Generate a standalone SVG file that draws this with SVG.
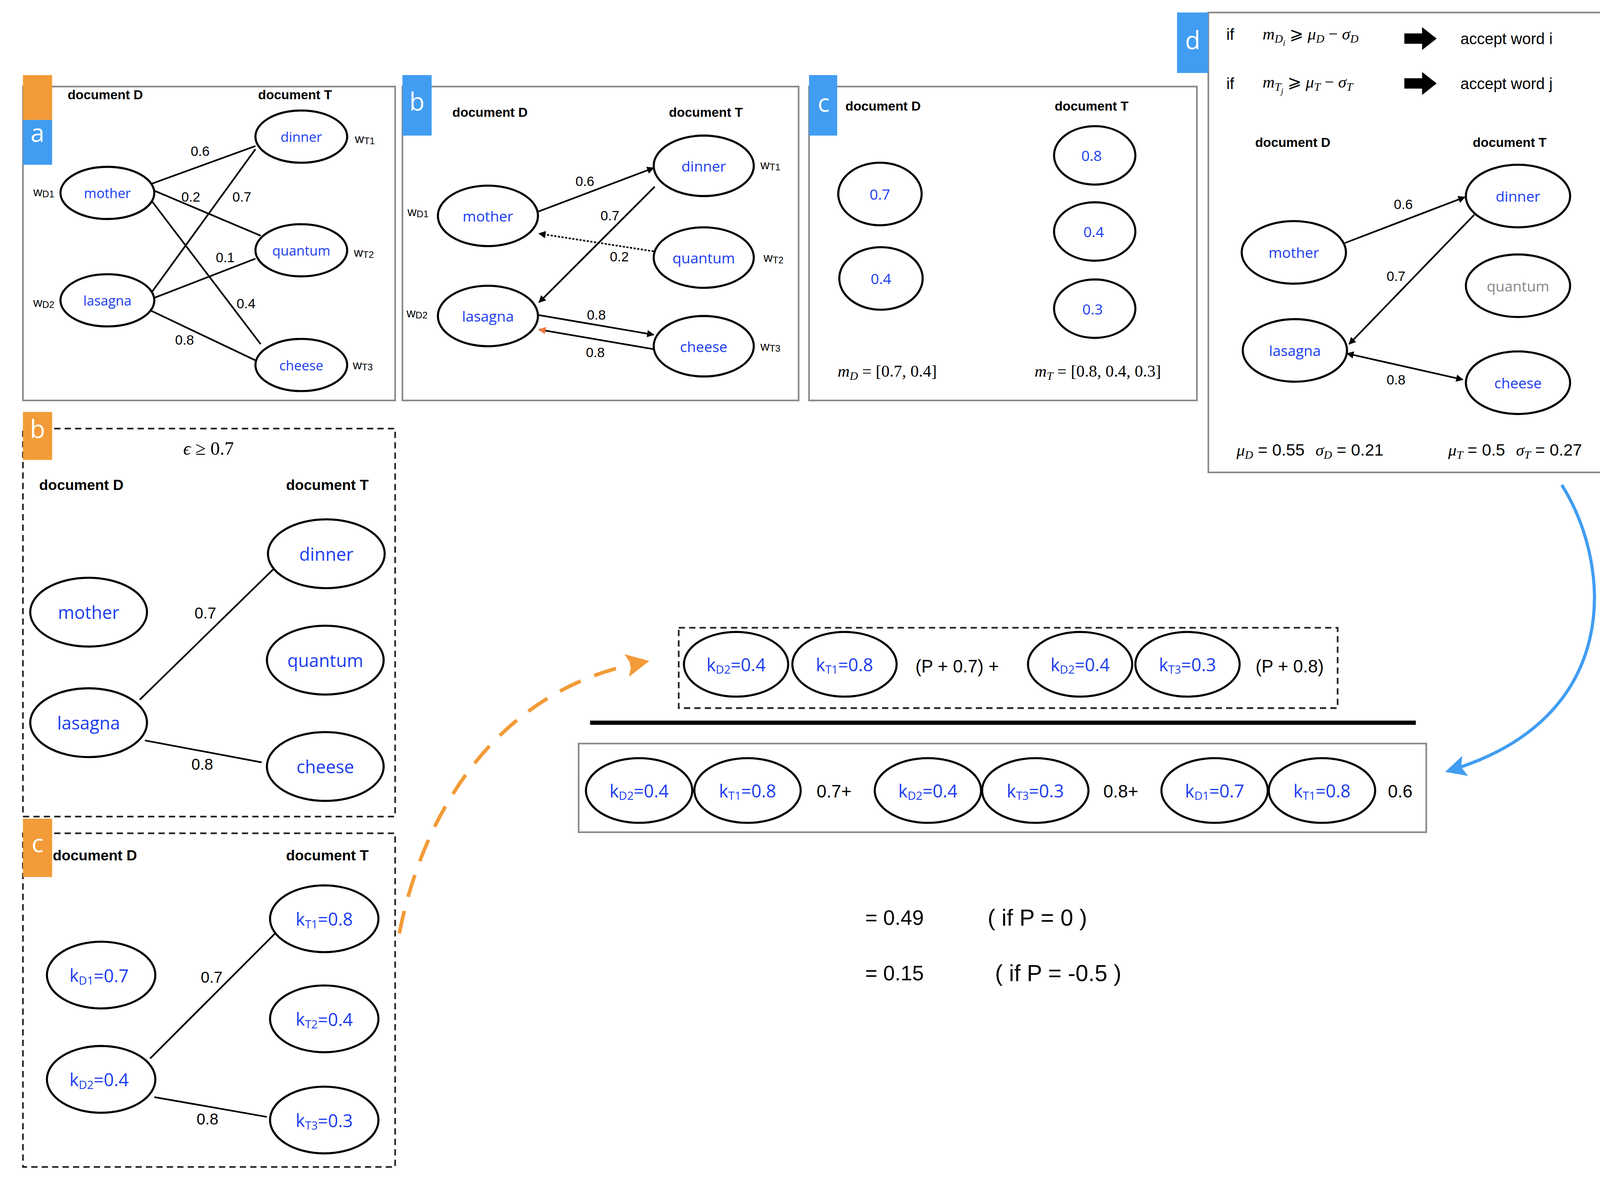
<svg xmlns="http://www.w3.org/2000/svg" width="4185" height="3020" viewBox="0 0 4185 3020">
<style>
.box{fill:#fff;stroke:#8a8a8a;stroke-width:1.6}
.dbox{fill:#fff;stroke:#222;stroke-width:1.6;stroke-dasharray:6 4}
.n{fill:#fff;stroke:#000;stroke-width:2}
.lb{font-family:"Open Sans","DejaVu Sans",sans-serif;fill:#1a3cf0;text-anchor:middle;dominant-baseline:central}
.hd{font-family:"Liberation Sans",Arial,sans-serif;font-weight:bold;text-anchor:middle}
.t{font-family:"Liberation Sans",Arial,sans-serif;text-anchor:middle;dominant-baseline:central}
.w{font-family:"Liberation Sans",Arial,sans-serif;font-size:12px;text-anchor:middle;dominant-baseline:central}
.m{font-family:"Liberation Serif","Times New Roman",serif;font-style:italic;font-size:16px}
.e{stroke:#000;stroke-width:1.6;fill:none}
.tabo{fill:#f29b38}
.tabb{fill:#419df2}
.tl{font-family:"Open Sans","DejaVu Sans",sans-serif;font-size:24px;fill:#fff;text-anchor:middle;dominant-baseline:central}
</style>
<defs>
<marker id="ak" viewBox="0 0 10 10" refX="9" refY="5" markerWidth="7" markerHeight="7" markerUnits="userSpaceOnUse" orient="auto-start-reverse"><path d="M0,0 L10,5 L0,10 z" fill="#000"/></marker>
<marker id="ao" viewBox="0 0 10 10" refX="9" refY="5" markerWidth="7" markerHeight="7" markerUnits="userSpaceOnUse" orient="auto"><path d="M0,0 L10,5 L0,10 z" fill="#e9773a"/></marker>
<marker id="aob" viewBox="0 0 10 10" refX="5" refY="5" markerWidth="22" markerHeight="22" markerUnits="userSpaceOnUse" orient="auto"><path d="M0,0 L10,5 L0,10 L2,5 z" fill="#f29b38"/></marker>
<marker id="abl" viewBox="0 0 10 10" refX="8" refY="5" markerWidth="20" markerHeight="20" markerUnits="userSpaceOnUse" orient="auto"><path d="M0,0 L10,5 L0,10 L2,5 z" fill="#419df2"/></marker>
</defs>
<rect width="4185" height="3020" fill="#fff"/>
<g transform="scale(2.669)">

<!-- panel a -->
<g id="panel-a">
<rect class="box" x="22" y="83" width="357" height="301"/>
<rect class="tabo" x="22" y="72" width="28" height="43"/>
<rect class="tabb" x="22" y="115" width="28" height="43"/>
<text class="tl" x="36" y="127">a</text>
<text class="hd" x="101" y="95" style="font-size:12.5px">document D</text>
<text class="hd" x="283" y="95" style="font-size:12.5px">document T</text>
<text class="w" x="42" y="184">w<tspan font-size="9" dy="2">D1</tspan></text>
<text class="w" x="42" y="290">w<tspan font-size="9" dy="2">D2</tspan></text>
<text class="w" x="350" y="133">w<tspan font-size="9" dy="2">T1</tspan></text>
<text class="w" x="349" y="242">w<tspan font-size="9" dy="2">T2</tspan></text>
<text class="w" x="348" y="350">w<tspan font-size="9" dy="2">T3</tspan></text>
</g>
<g id="a-connectors">
<line class="e" x1="146" y1="176" x2="245" y2="140"/>
<line class="e" x1="146" y1="182" x2="250" y2="226"/>
<line class="e" x1="145" y1="192" x2="250" y2="330"/>
<line class="e" x1="145" y1="281" x2="245" y2="143"/>
<line class="e" x1="147" y1="286" x2="245" y2="248"/>
<line class="e" x1="145" y1="298" x2="246" y2="346"/>
<text class="t" x="192" y="145" style="font-size:13px">0.6</text>
<text class="t" x="183" y="189" style="font-size:13px">0.2</text>
<text class="t" x="232" y="189" style="font-size:13px">0.7</text>
<text class="t" x="216" y="247" style="font-size:13px">0.1</text>
<text class="t" x="236" y="291" style="font-size:13px">0.4</text>
<text class="t" x="177" y="326" style="font-size:13px">0.8</text>
</g>
<g id="a-mother"><ellipse class="n" cx="103" cy="185" rx="45" ry="25"/><text class="lb" x="103" y="185" font-size="13">mother</text></g>
<g id="a-lasagna"><ellipse class="n" cx="103" cy="288" rx="45" ry="25"/><text class="lb" x="103" y="288" font-size="13">lasagna</text></g>
<g id="a-dinner"><ellipse class="n" cx="289" cy="131" rx="44" ry="25"/><text class="lb" x="289" y="131" font-size="13">dinner</text></g>
<g id="a-quantum"><ellipse class="n" cx="289" cy="240" rx="44" ry="25"/><text class="lb" x="289" y="240" font-size="13">quantum</text></g>
<g id="a-cheese"><ellipse class="n" cx="289" cy="350" rx="44" ry="25"/><text class="lb" x="289" y="350" font-size="13">cheese</text></g>

<!-- panel b top -->
<g id="panel-b">
<rect class="box" x="386" y="83" width="380" height="301"/>
<rect class="tabb" x="386" y="72" width="28" height="58"/>
<text class="tl" x="400" y="97">b</text>
<text class="hd" x="470" y="112" style="font-size:12.5px">document D</text>
<text class="hd" x="677" y="112" style="font-size:12.5px">document T</text>
<text class="w" x="401" y="203">w<tspan font-size="9" dy="2">D1</tspan></text>
<text class="w" x="400" y="300">w<tspan font-size="9" dy="2">D2</tspan></text>
<text class="w" x="739" y="158">w<tspan font-size="9" dy="2">T1</tspan></text>
<text class="w" x="742" y="247">w<tspan font-size="9" dy="2">T2</tspan></text>
<text class="w" x="739" y="332">w<tspan font-size="9" dy="2">T3</tspan></text>
</g>
<g id="b-connectors">
<line class="e" x1="516" y1="203" x2="627" y2="161" marker-end="url(#ak)"/>
<line class="e" x1="628" y1="179" x2="517" y2="290" marker-end="url(#ak)"/>
<line class="e" x1="627" y1="241" x2="517" y2="224" stroke-dasharray="2 1.5" marker-end="url(#ak)"/>
<line class="e" x1="516" y1="302" x2="627" y2="321" marker-end="url(#ak)"/>
<line class="e" x1="628" y1="335" x2="517" y2="316" stroke="#e9773a" marker-end="url(#ao)"/>
<text class="t" x="561" y="174" style="font-size:13px">0.6</text>
<text class="t" x="585" y="207" style="font-size:13px">0.7</text>
<text class="t" x="594" y="246" style="font-size:13px">0.2</text>
<text class="t" x="572" y="302" style="font-size:13px">0.8</text>
<text class="t" x="571" y="338" style="font-size:13px">0.8</text>
</g>
<g id="b-mother"><ellipse class="n" cx="468" cy="207" rx="48" ry="29"/><text class="lb" x="468" y="207" font-size="14">mother</text></g>
<g id="b-lasagna"><ellipse class="n" cx="468" cy="303" rx="48" ry="29"/><text class="lb" x="468" y="303" font-size="14">lasagna</text></g>
<g id="b-dinner"><ellipse class="n" cx="675" cy="159" rx="48" ry="29"/><text class="lb" x="675" y="159" font-size="14">dinner</text></g>
<g id="b-quantum"><ellipse class="n" cx="675" cy="247" rx="48" ry="29"/><text class="lb" x="675" y="247" font-size="14">quantum</text></g>
<g id="b-cheese"><ellipse class="n" cx="675" cy="332" rx="48" ry="29"/><text class="lb" x="675" y="332" font-size="14">cheese</text></g>

<!-- panel c top -->
<g id="panel-c">
<rect class="box" x="776" y="83" width="372" height="301"/>
<rect class="tabb" x="776" y="72" width="27" height="58"/>
<text class="tl" x="790" y="98">c</text>
<text class="hd" x="847" y="106" style="font-size:12.5px">document D</text>
<text class="hd" x="1047" y="106" style="font-size:12.5px">document T</text>
<text class="m" x="851" y="361" text-anchor="middle">m<tspan font-size="11" dy="3">D</tspan><tspan font-style="normal" dy="-3"> = [0.7, 0.4]</tspan></text>
<text class="m" x="1053" y="361" text-anchor="middle">m<tspan font-size="11" dy="3">T</tspan><tspan font-style="normal" dy="-3"> = [0.8, 0.4, 0.3]</tspan></text>
</g>
<g id="c-d1"><ellipse class="n" cx="844" cy="186" rx="40" ry="30"/><text class="lb" x="844" y="186" font-size="14">0.7</text></g>
<g id="c-d2"><ellipse class="n" cx="845" cy="267" rx="40" ry="30"/><text class="lb" x="845" y="267" font-size="14">0.4</text></g>
<g id="c-t1"><ellipse class="n" cx="1050" cy="149" rx="39" ry="28"/><text class="lb" x="1047" y="149" font-size="14">0.8</text></g>
<g id="c-t2"><ellipse class="n" cx="1050" cy="222" rx="39" ry="28"/><text class="lb" x="1049" y="222" font-size="14">0.4</text></g>
<g id="c-t3"><ellipse class="n" cx="1050" cy="296" rx="39" ry="28"/><text class="lb" x="1048" y="296" font-size="14">0.3</text></g>

<!-- panel d -->
<g id="panel-d">
<rect class="box" x="1159" y="12" width="398" height="441"/>
<rect class="tabb" x="1129" y="12" width="30" height="58"/>
<text class="tl" x="1144" y="38">d</text>
<text class="t" x="1180" y="33" style="font-size:15px">if</text>
<text class="m" x="1211" y="38">m<tspan font-size="11" dy="3">D</tspan><tspan font-size="8" dy="3">i</tspan><tspan dy="-6" font-style="normal"> ⩾ </tspan>μ<tspan font-size="11" dy="3">D</tspan><tspan dy="-3" font-style="normal"> − </tspan>σ<tspan font-size="11" dy="3">D</tspan></text>
<path d="M1347,32 L1364,32 L1364,26 L1378,37 L1364,48 L1364,42 L1347,42 z" fill="#000"/>
<text class="t" x="1445" y="37" style="font-size:15px">accept word i</text>
<text class="t" x="1180" y="80" style="font-size:15px">if</text>
<text class="m" x="1211" y="84">m<tspan font-size="11" dy="3">T</tspan><tspan font-size="8" dy="3">j</tspan><tspan dy="-6" font-style="normal"> ⩾ </tspan>μ<tspan font-size="11" dy="3">T</tspan><tspan dy="-3" font-style="normal"> − </tspan>σ<tspan font-size="11" dy="3">T</tspan></text>
<path d="M1347,75 L1364,75 L1364,69 L1378,80 L1364,91 L1364,85 L1347,85 z" fill="#000"/>
<text class="t" x="1445" y="80" style="font-size:15px">accept word j</text>
<text class="hd" x="1240" y="141" style="font-size:12.5px">document D</text>
<text class="hd" x="1448" y="141" style="font-size:12.5px">document T</text>
<text class="m" x="1186" y="437">μ<tspan font-size="11" dy="3">D</tspan><tspan dy="-3" font-style="normal" font-family="Liberation Sans"> = 0.55  </tspan><tspan dx="6">σ</tspan><tspan font-size="11" dy="3">D</tspan><tspan dy="-3" font-style="normal" font-family="Liberation Sans"> = 0.21</tspan></text>
<text class="m" x="1389" y="437">μ<tspan font-size="11" dy="3">T</tspan><tspan dy="-3" font-style="normal" font-family="Liberation Sans"> = 0.5  </tspan><tspan dx="6">σ</tspan><tspan font-size="11" dy="3">T</tspan><tspan dy="-3" font-style="normal" font-family="Liberation Sans"> = 0.27</tspan></text>
</g>
<g id="d-connectors">
<line class="e" x1="1290" y1="233" x2="1405" y2="189" marker-end="url(#ak)"/>
<line class="e" x1="1414" y1="206" x2="1294" y2="330" marker-end="url(#ak)"/>
<line class="e" x1="1292" y1="339" x2="1403" y2="364" marker-start="url(#ak)" marker-end="url(#ak)"/>
<text class="t" x="1346" y="196" style="font-size:13px">0.6</text>
<text class="t" x="1339" y="265" style="font-size:13px">0.7</text>
<text class="t" x="1339" y="364" style="font-size:13px">0.8</text>
</g>
<g id="d-mother"><ellipse class="n" cx="1241" cy="242" rx="50" ry="30"/><text class="lb" x="1241" y="242" font-size="14">mother</text></g>
<g id="d-lasagna"><ellipse class="n" cx="1242" cy="336" rx="50" ry="30"/><text class="lb" x="1242" y="336" font-size="14">lasagna</text></g>
<g id="d-dinner"><ellipse class="n" cx="1456" cy="188" rx="50" ry="30"/><text class="lb" x="1456" y="188" font-size="14">dinner</text></g>
<g id="d-quantum"><ellipse class="n" cx="1456" cy="274" rx="50" ry="30"/><text class="lb" x="1456" y="274" font-size="14" style="fill:#888">quantum</text></g>
<g id="d-cheese"><ellipse class="n" cx="1456" cy="367" rx="50" ry="30"/><text class="lb" x="1456" y="367" font-size="14">cheese</text></g>

<!-- panel b left -->
<g id="panel-b2">
<rect class="dbox" x="22" y="411" width="357" height="372"/>
<rect class="tabo" x="22" y="395" width="28" height="46"/>
<text class="tl" x="36" y="411">b</text>
<text class="m" x="200" y="436" text-anchor="middle" style="font-size:18px">ϵ<tspan font-style="normal"> ≥ 0.7</tspan></text>
<text class="hd" x="78" y="470" style="font-size:14px">document D</text>
<text class="hd" x="314" y="470" style="font-size:14px">document T</text>
</g>
<g id="b2-connectors">
<line class="e" x1="134" y1="671" x2="262" y2="546"/>
<line class="e" x1="139" y1="710" x2="251" y2="731"/>
<text class="t" x="197" y="588" style="font-size:15px">0.7</text>
<text class="t" x="194" y="733" style="font-size:15px">0.8</text>
</g>
<g id="b2-mother"><ellipse class="n" cx="85" cy="587" rx="56" ry="33"/><text class="lb" x="85" y="587" font-size="17">mother</text></g>
<g id="b2-lasagna"><ellipse class="n" cx="85" cy="693" rx="56" ry="33"/><text class="lb" x="85" y="693" font-size="17">lasagna</text></g>
<g id="b2-dinner"><ellipse class="n" cx="313" cy="531" rx="56" ry="33"/><text class="lb" x="313" y="531" font-size="17">dinner</text></g>
<g id="b2-quantum"><ellipse class="n" cx="312" cy="633" rx="56" ry="33"/><text class="lb" x="312" y="633" font-size="17">quantum</text></g>
<g id="b2-cheese"><ellipse class="n" cx="312" cy="735" rx="56" ry="33"/><text class="lb" x="312" y="735" font-size="17">cheese</text></g>

<!-- panel c left -->
<g id="panel-c2">
<rect class="dbox" x="22" y="799" width="357" height="320"/>
<rect class="tabo" x="22" y="785" width="28" height="56"/>
<text class="tl" x="36" y="808">c</text>
<text class="hd" x="91" y="825" style="font-size:14px">document D</text>
<text class="hd" x="314" y="825" style="font-size:14px">document T</text>
</g>
<g id="c2-connectors">
<line class="e" x1="144" y1="1015" x2="265" y2="894"/>
<line class="e" x1="148" y1="1052" x2="256" y2="1071"/>
<text class="t" x="203" y="937" style="font-size:15px">0.7</text>
<text class="t" x="199" y="1073" style="font-size:15px">0.8</text>
</g>
<g id="c2-kd1"><ellipse class="n" cx="97" cy="935" rx="52" ry="32"/><text class="lb" x="95" y="935" font-size="17">k<tspan font-size="11" dy="5">D1</tspan><tspan dy="-5">=0.7</tspan></text></g>
<g id="c2-kd2"><ellipse class="n" cx="97" cy="1035" rx="52" ry="32"/><text class="lb" x="95" y="1035" font-size="17">k<tspan font-size="11" dy="5">D2</tspan><tspan dy="-5">=0.4</tspan></text></g>
<g id="c2-kt1"><ellipse class="n" cx="311" cy="881" rx="52" ry="32"/><text class="lb" x="311" y="881" font-size="17">k<tspan font-size="11" dy="5">T1</tspan><tspan dy="-5">=0.8</tspan></text></g>
<g id="c2-kt2"><ellipse class="n" cx="311" cy="977" rx="52" ry="32"/><text class="lb" x="311" y="977" font-size="17">k<tspan font-size="11" dy="5">T2</tspan><tspan dy="-5">=0.4</tspan></text></g>
<g id="c2-kt3"><ellipse class="n" cx="311" cy="1074" rx="52" ry="32"/><text class="lb" x="311" y="1074" font-size="17">k<tspan font-size="11" dy="5">T3</tspan><tspan dy="-5">=0.3</tspan></text></g>

<!-- curved connectors -->
<g id="curves">
<path d="M383,895 C 410,760 490,660 612,636" fill="none" stroke="#f29b38" stroke-width="3.5" stroke-dasharray="22 14" marker-end="url(#aob)"/>
<path d="M1498,465 C 1548,545 1555,690 1390,739" fill="none" stroke="#419df2" stroke-width="3" marker-end="url(#abl)"/>
</g>

<!-- numerator -->
<g id="numerator">
<rect class="dbox" x="651" y="602" width="632" height="77"/>
<g id="n1"><ellipse class="n" cx="706" cy="637" rx="50" ry="31"/><text class="lb" x="706" y="637" font-size="17">k<tspan font-size="11" dy="5">D2</tspan><tspan dy="-5">=0.4</tspan></text></g>
<g id="n2"><ellipse class="n" cx="810" cy="637" rx="50" ry="31"/><text class="lb" x="810" y="637" font-size="17">k<tspan font-size="11" dy="5">T1</tspan><tspan dy="-5">=0.8</tspan></text></g>
<text class="t" x="918" y="639" style="font-size:17px">(P + 0.7) +</text>
<g id="n3"><ellipse class="n" cx="1036" cy="637" rx="50" ry="31"/><text class="lb" x="1036" y="637" font-size="17">k<tspan font-size="11" dy="5">D2</tspan><tspan dy="-5">=0.4</tspan></text></g>
<g id="n4"><ellipse class="n" cx="1139" cy="637" rx="50" ry="31"/><text class="lb" x="1139" y="637" font-size="17">k<tspan font-size="11" dy="5">T3</tspan><tspan dy="-5">=0.3</tspan></text></g>
<text class="t" x="1237" y="639" style="font-size:17px">(P + 0.8)</text>
</g>
<line x1="566" y1="693" x2="1358" y2="693" stroke="#000" stroke-width="4"/>
<!-- denominator -->
<g id="denominator">
<rect class="box" x="555" y="713" width="813" height="85"/>
<g id="m1"><ellipse class="n" cx="613" cy="758" rx="51" ry="31"/><text class="lb" x="613" y="758" font-size="17">k<tspan font-size="11" dy="5">D2</tspan><tspan dy="-5">=0.4</tspan></text></g>
<g id="m2"><ellipse class="n" cx="717" cy="758" rx="51" ry="31"/><text class="lb" x="717" y="758" font-size="17">k<tspan font-size="11" dy="5">T1</tspan><tspan dy="-5">=0.8</tspan></text></g>
<text class="t" x="800" y="759" style="font-size:17px">0.7+</text>
<g id="m3"><ellipse class="n" cx="890" cy="758" rx="51" ry="31"/><text class="lb" x="890" y="758" font-size="17">k<tspan font-size="11" dy="5">D2</tspan><tspan dy="-5">=0.4</tspan></text></g>
<g id="m4"><ellipse class="n" cx="993" cy="758" rx="51" ry="31"/><text class="lb" x="993" y="758" font-size="17">k<tspan font-size="11" dy="5">T3</tspan><tspan dy="-5">=0.3</tspan></text></g>
<text class="t" x="1075" y="759" style="font-size:17px">0.8+</text>
<g id="m5"><ellipse class="n" cx="1165" cy="758" rx="51" ry="31"/><text class="lb" x="1165" y="758" font-size="17">k<tspan font-size="11" dy="5">D1</tspan><tspan dy="-5">=0.7</tspan></text></g>
<g id="m6"><ellipse class="n" cx="1268" cy="758" rx="51" ry="31"/><text class="lb" x="1268" y="758" font-size="17">k<tspan font-size="11" dy="5">T1</tspan><tspan dy="-5">=0.8</tspan></text></g>
<text class="t" x="1343" y="759" style="font-size:17px">0.6</text>
</g>
<g id="results">
<text class="t" x="858" y="880" style="font-size:20px">= 0.49</text>
<text class="t" x="995" y="880" style="font-size:22px">( if P = 0 )</text>
<text class="t" x="858" y="933" style="font-size:20px">= 0.15</text>
<text class="t" x="1015" y="933" style="font-size:22px">( if P = -0.5 )</text>
</g>
</g>
</svg>
